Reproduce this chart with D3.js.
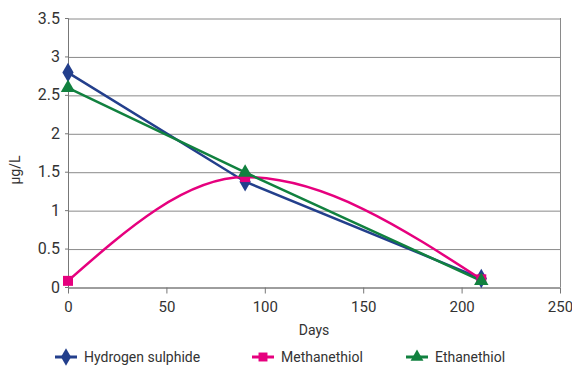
<!DOCTYPE html>
<html>
<head>
<meta charset="utf-8">
<script src="https://cdn.jsdelivr.net/npm/d3@7"></script>
<style>
  body { margin: 0; background: #fff; }
  text { font-family: Roboto, "Liberation Sans", sans-serif; fill: #333; }
</style>
</head>
<body>
<svg id="chart" width="572" height="370"></svg>
<script>
const days = [0, 90, 210];
const hydrogenSulphide = [2.79, 1.37, 0.11];
const methanethiol = [0.08, 1.43, 0.1];
const ethanethiol = [2.59, 1.49, 0.08];
const yTicks = [0, 0.5, 1, 1.5, 2, 2.5, 3, 3.5];
const xTicks = [0, 50, 100, 150, 200, 250];

const series = [
  { name: "Hydrogen sulphide", values: hydrogenSulphide, color: "#233f8c", shape: d3.symbolDiamond, size: 110, curve: d3.curveLinear },
  { name: "Methanethiol", values: methanethiol, color: "#e6007e", shape: d3.symbolSquare, size: 100, curve: d3.curveMonotoneX },
  { name: "Ethanethiol", values: ethanethiol, color: "#11813f", shape: d3.symbolTriangle, size: 90, curve: d3.curveLinear }
];

const svg = d3.select("#chart");
const margin = { top: 18, right: 12, bottom: 83, left: 68 };
const width = 572 - margin.left - margin.right;
const height = 370 - margin.top - margin.bottom;

const chart = svg.append("g")
  .attr("transform", `translate(${margin.left},${margin.top})`);

const x = d3.scaleLinear().domain([0, 250]).range([0, width]);
const y = d3.scaleLinear().domain([0, 3.5]).range([height, 0]);

// grid lines
const grid = chart.append("g")
  .call(d3.axisLeft(y).tickValues(yTicks).tickSize(-width).tickFormat(""));
grid.selectAll("line").style("stroke", "#8a8a8a").attr("transform", "translate(0,0.5)");
grid.select(".domain").remove();

// right border
chart.append("line")
  .attr("x1", width + 0.5).attr("x2", width + 0.5)
  .attr("y1", 0).attr("y2", height)
  .style("stroke", "#8a8a8a");

const yAxis = chart.append("g")
  .call(d3.axisLeft(y).tickValues(yTicks).tickSize(3).tickPadding(5).tickFormat(d3.format("")));
yAxis.selectAll("text").style("font-size", "16px").style("fill", "#333");
yAxis.selectAll(".tick line").style("stroke", "#777");
yAxis.select(".domain").style("stroke", "#777");

const xAxis = chart.append("g")
  .attr("transform", `translate(0,${height + 0.5})`)
  .call(d3.axisBottom(x).tickValues(xTicks).tickSize(6).tickSizeOuter(0).tickPadding(8));
xAxis.selectAll("text").style("font-size", "15px").style("fill", "#333");
xAxis.selectAll(".tick line").style("stroke", "#777");
xAxis.select(".domain").style("stroke", "#777");

// axis titles
chart.append("text")
  .attr("x", x(125)).attr("y", height + 48)
  .attr("text-anchor", "middle")
  .style("font-size", "14px")
  .text("Days");

svg.append("text")
  .attr("transform", `translate(20,170) rotate(-90)`)
  .attr("text-anchor", "middle")
  .style("font-size", "14px")
  .text("µg/L");

// series
series.forEach(s => {
  const pts = days.map((d, i) => [x(d), y(s.values[i])]);
  chart.append("path")
    .datum(pts)
    .attr("fill", "none")
    .attr("stroke", s.color)
    .attr("stroke-width", 2.5)
    .attr("d", d3.line().curve(s.curve));
});

series.forEach(s => {
  chart.selectAll(null)
    .data(days.map((d, i) => [x(d), y(s.values[i])]))
    .enter()
    .append("path")
    .attr("transform", d => `translate(${d[0]},${d[1]})`)
    .attr("d", d3.symbol().type(s.shape).size(s.size))
    .attr("fill", s.color);
});

// legend
const legendX = [55, 252, 406];
const legend = svg.append("g").attr("transform", "translate(0,357)");
series.forEach((s, i) => {
  const g = legend.append("g").attr("transform", `translate(${legendX[i]},0)`);
  g.append("line")
    .attr("x1", 0).attr("x2", 22)
    .attr("stroke", s.color).attr("stroke-width", 3);
  g.append("path")
    .attr("transform", "translate(11,0)")
    .attr("d", d3.symbol().type(s.shape).size(s.size * 0.8))
    .attr("fill", s.color);
  g.append("text")
    .attr("x", 29).attr("y", 5)
    .style("font-size", "14px")
    .text(s.name);
});
</script>
</body>
</html>
